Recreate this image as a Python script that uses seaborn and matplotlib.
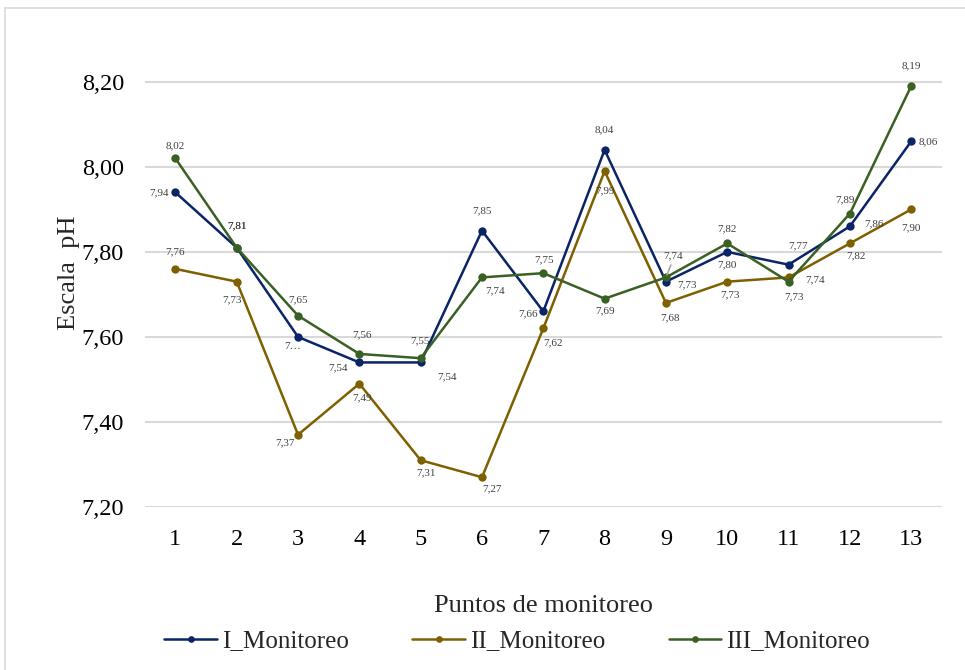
import matplotlib
matplotlib.use("Agg")
import matplotlib.pyplot as plt
import seaborn as sns
import pandas as pd
from matplotlib.patches import Rectangle

puntos = list(range(1, 14))
series_names = ["I_Monitoreo", "II_Monitoreo", "III_Monitoreo"]
mon_I = [7.94, 7.81, 7.60, 7.54, 7.54, 7.85, 7.66, 8.04, 7.73, 7.80, 7.77, 7.86, 8.06]
mon_II = [7.76, 7.73, 7.37, 7.49, 7.31, 7.27, 7.62, 7.99, 7.68, 7.73, 7.74, 7.82, 7.90]
mon_III = [8.02, 7.81, 7.65, 7.56, 7.55, 7.74, 7.75, 7.69, 7.74, 7.82, 7.73, 7.89, 8.19]
yticks = [7.20, 7.40, 7.60, 7.80, 8.00, 8.20]

colors = {"I_Monitoreo": "#0A2466", "II_Monitoreo": "#7F6000", "III_Monitoreo": "#3A6123"}

# label offsets in pixels (dx, dy with y downward)
off_I = [(-16, 0), (0, -22), (-5, 10), (-21, 5), (26, 14), (0, -20), (-15, 2),
         (0, -20), (21, 3), (0, 13), (10, -19), (24, -3), (17, 0)]
off_II = [(0, -17), (-5, 18), (-13, 8), (3, 14), (5, 13), (10, 12), (10, 14),
          (0, 20), (4, 15), (3, 13), (27, 2), (6, 12), (0, 18)]
off_III = [(0, -13), (0, -22), (0, -16), (3, -19), (-1, -17), (13, 13), (1, -13),
           (0, 12), (7, -22), (0, -15), (5, 15), (-5, -14), (0, -20)]

def fmt(v):
    return f"{v:.2f}".replace(".", ",")

lab_I = [fmt(v) for v in mon_I]
lab_I[2] = "7\u2026"
lab_II = [fmt(v) for v in mon_II]
lab_III = [fmt(v) for v in mon_III]

df = pd.DataFrame({
    "Punto": puntos * 3,
    "pH": mon_I + mon_II + mon_III,
    "Serie": [series_names[0]] * 13 + [series_names[1]] * 13 + [series_names[2]] * 13,
})

sns.set_theme(style="white")
plt.rcParams["font.family"] = ["Liberation Serif", "DejaVu Serif"]

fig = plt.figure(figsize=(9.65, 6.70), dpi=100)
ax = fig.add_axes([0.150, 0.2433, 0.826, 0.698])

sns.lineplot(data=df, x="Punto", y="pH", hue="Serie", hue_order=series_names,
             palette=colors, marker="o", markersize=6, markeredgewidth=0,
             linewidth=1.8, ax=ax, legend=True)

for vals, labs, offs in [(mon_I, lab_I, off_I), (mon_II, lab_II, off_II), (mon_III, lab_III, off_III)]:
    for i, (v, t, o) in enumerate(zip(vals, labs, offs)):
        ax.annotate(t, xy=(puntos[i], v), xytext=(o[0], -o[1]), textcoords="offset pixels",
                    ha="center", va="center", fontsize=8, color="#404040")

# leader line for III point 9
ax.annotate("", xy=(puntos[8], mon_III[8]), xytext=(6, 15), textcoords="offset pixels",
            arrowprops=dict(arrowstyle="-", color="#A6A6A6", lw=1.2))

ax.set_xlim(0.5, 13.5)
ax.set_ylim(7.20, 8.30)
ax.set_yticks(yticks)
ax.set_yticklabels([f"{v:.2f}".replace(".", ",") for v in yticks])
ax.set_xticks(puntos)
ax.set_xticklabels([str(p) for p in puntos])
ax.tick_params(axis="y", labelsize=17.5, length=0, pad=15, colors="#000000")
ax.tick_params(axis="x", labelsize=17.5, length=0, pad=16, colors="#000000")
ax.yaxis.grid(True, color="#D9D9D9", linewidth=1.5)
ax.set_axisbelow(True)
for s in ax.spines.values():
    s.set_visible(False)

ax.set_ylabel("Escala  pH", fontsize=19, labelpad=1)
ax.set_xlabel("Puntos de monitoreo", fontsize=19, labelpad=32)

handles, labels = ax.get_legend_handles_labels()
ax.legend_.remove()
fig.legend(handles, labels, loc="center", bbox_to_anchor=(0.536, 0.043), ncol=3,
           frameon=False, fontsize=18, handlelength=2.1, columnspacing=2.55,
           handletextpad=0.2, markerscale=0.8)

fig.patches.append(Rectangle((5 / 965, -0.01), 1.0, 1 - 8 / 670 + 0.01,
                             transform=fig.transFigure, fill=False,
                             edgecolor="#D9D9D9", linewidth=1.2, zorder=-1))

fig.savefig("out.png", dpi=100)
